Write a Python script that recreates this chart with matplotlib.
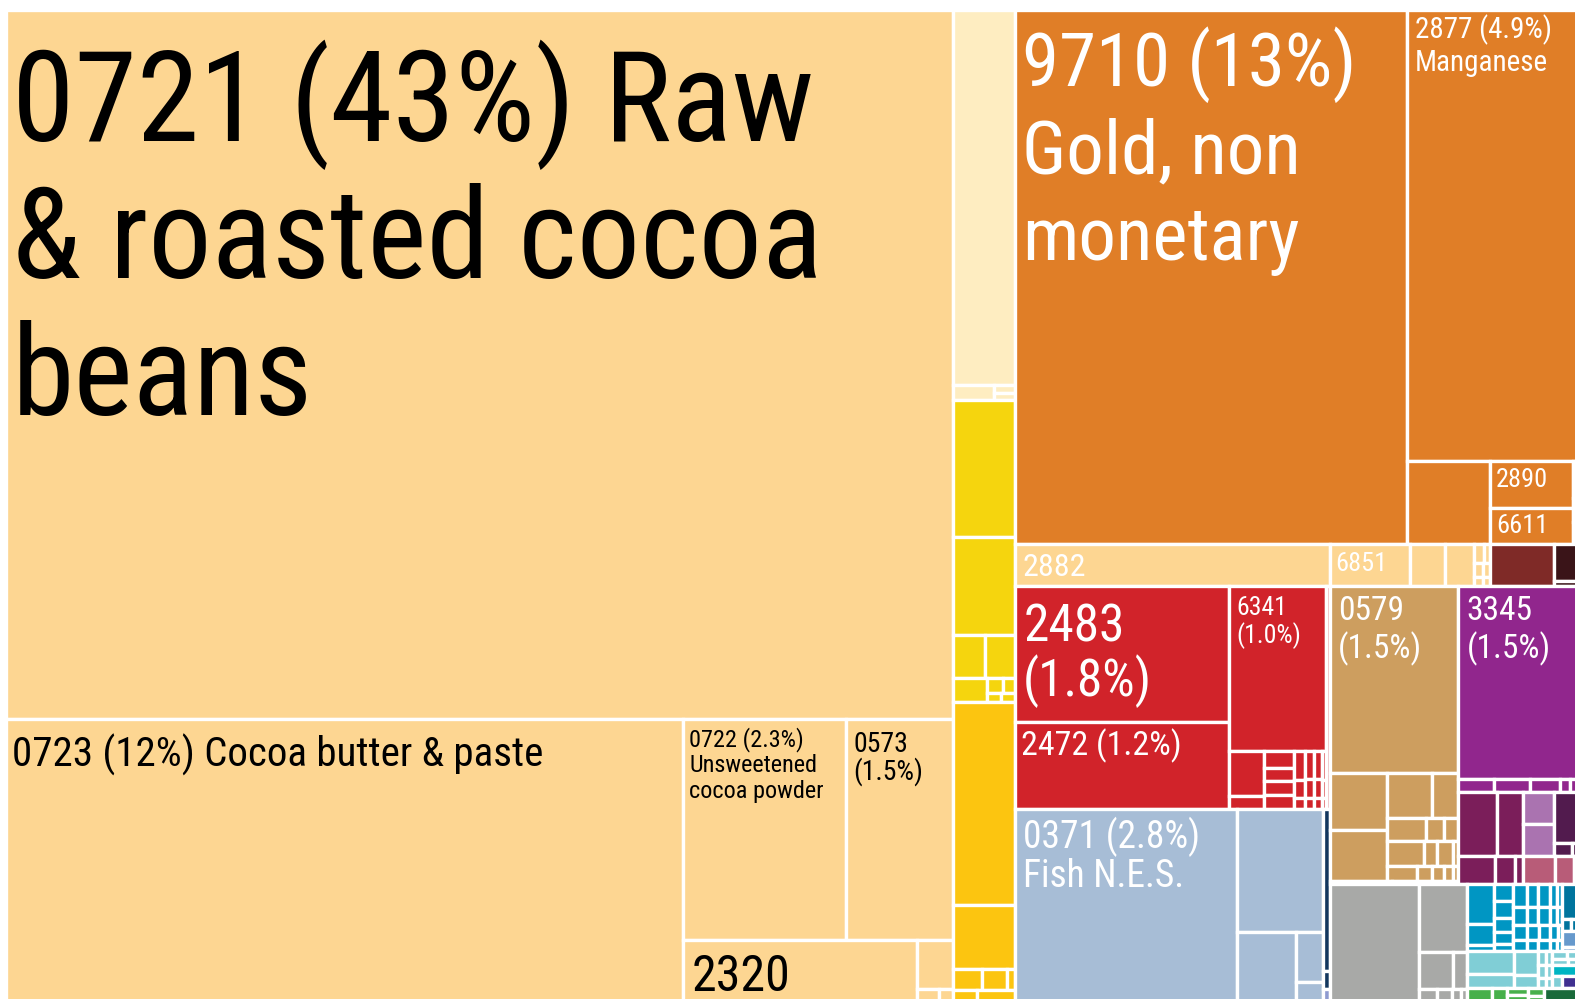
import matplotlib.pyplot as plt
from matplotlib.patches import Rectangle

plt.rcParams['font.family'] = ['Liberation Sans Narrow', 'Roboto Condensed', 'DejaVu Sans']

# --- shares of total exports (%), read off the tile areas ---
# cocoa & food (light orange)
cocoa_codes = ['0721', '0723', '0722', '0573', '2320']
cocoa_share = [43.0, 12.3, 2.31, 1.52, 0.93]
cocoa_tail = [0.115, 0.018, 0.011]

# narrow column next to cocoa
pale_share = [1.49, 0.038, 0.010, 0.010]
yellow_share = [0.543, 0.391, 0.086, 0.083, 0.053]
yellow_tiny = [[0.015, 0.012], [0.008, 0.008]]
gold_share = [0.807, 0.252]
gold_tiny = [[0.040, 0.034, 0.011], [0.018, 0.029]]

# minerals (orange)
orange_codes = ['9710', '2877', '2890', '6611']
orange_share = [13.4, 4.94, 0.25, 0.19]
orange_rest = [0.44, 0.012, 0.008, 0.007]

# strip below the minerals
strip_codes = ['2882', '6851']
strip_share = [0.85, 0.216, 0.095, 0.078]
strip_tiny = [[0.012, 0.008], [0.008, 0.006], [0.005, 0.004]]
darkred_share = [0.173]
darkest_share = [0.058, 0.007]

# red
red_codes = ['2483', '2472', '6341']
red_share = [1.87, 1.19, 1.02]
red_small_a = [0.10, 0.027]
red_small_b = [0.032, 0.026, 0.026, 0.026]
red_small_c = [[0.022, 0.014, 0.008], [0.016, 0.011, 0.006], [0.013, 0.009, 0.005], [0.008, 0.005, 0.003]]
pink_share = [0.057]

# fish (light blue)
blue_codes = ['0371']
blue_share = [2.75, 0.68, 0.26, 0.087, 0.035]
navy_share = [0.073, 0.008]
lavender_share = [0.006]

# tan
tan_codes = ['0579']
tan_share = [1.54]
tan_small_a = [0.21, 0.19]
tan_small_b = [[0.13, 0.075], [0.058, 0.027, 0.022], [0.056, 0.021, 0.025, 0.008], [0.03, 0.015, 0.012, 0.009, 0.006]]
brown_share = [0.012, 0.008, 0.005]

# purple
purple_codes = ['3345']
purple_share = [1.48]
purple_small = [0.03, 0.03, 0.025, 0.008, 0.007]
magenta_share = [[0.158, 0.106], [0.068, 0.036, 0.015]]
lilac_share = [0.062, 0.062]
plum_share = [0.08, 0.014, 0.005]
rose_share = [0.058, 0.035, 0.008]

# gray
gray_share = [0.67, 0.21]
gray_small = [[0.08, 0.035], [0.015, 0.012, 0.008, 0.005]]

# teal / cyan / green corner
teal_a = [0.068, 0.035, 0.01]
teal_b = [0.02, 0.02, 0.018, 0.014, 0.008]
teal_grid = [[0.02, 0.016, 0.016, 0.011, 0.007],
             [0.017, 0.014, 0.014, 0.009, 0.006],
             [0.013, 0.011, 0.01, 0.007, 0.004],
             [0.01, 0.008, 0.008, 0.005, 0.004]]
darkteal_share = [0.035, 0.007, 0.005]
lightblue_share = [0.016, 0.004]
cyan_a = [0.07, 0.042]
cyan_b = [0.037, 0.02]
cyan_grid = [[0.007, 0.006], [0.006, 0.005], [0.005, 0.004]]
cyan_tail = [[0.008, 0.006], [0.006, 0.004]]
brightcyan_share = [0.018]
indigo_share = [0.012]
cyan_last = [0.008]
green_share = [0.022, 0.014, 0.01, 0.009, 0.008, 0.006]
darkgreen_share = [0.031]

labels = {
    '0721': ['0721 (43%) Raw', '& roasted cocoa', 'beans'],
    '0723': ['0723 (12%) Cocoa butter & paste'],
    '0722': ['0722 (2.3%)', 'Unsweetened', 'cocoa powder'],
    '0573': ['0573', '(1.5%)'],
    '2320': ['2320'],
    '9710': ['9710 (13%)', 'Gold, non', 'monetary'],
    '2877': ['2877 (4.9%)', 'Manganese'],
    '2890': ['2890'],
    '6611': ['6611'],
    '2882': ['2882'],
    '6851': ['6851'],
    '2483': ['2483', '(1.8%)'],
    '2472': ['2472 (1.2%)'],
    '6341': ['6341', '(1.0%)'],
    '0579': ['0579', '(1.5%)'],
    '3345': ['3345', '(1.5%)'],
    '0371': ['0371 (2.8%)', 'Fish N.E.S.'],
}

# font size (pt), x pad, first baseline offset, line step (px)
label_style = {
    '0721': (91, 6, 131, 137),
    '0723': (29.5, 6, 48, 0),
    '0722': (17.5, 6, 28, 25.5),
    '0573': (20, 7, 33, 28),
    '2320': (36, 8, 51, 0),
    '9710': (54, 7, 76, 87),
    '2877': (21, 8, 28, 33),
    '2890': (19, 6, 26, 0),
    '6611': (19, 6, 25, 0),
    '2882': (23, 7, 32, 0),
    '6851': (19, 5, 27, 0),
    '2483': (37, 8, 56, 54),
    '2472': (24.5, 6, 33, 0),
    '6341': (18.5, 7, 29, 28),
    '0579': (24, 8, 34, 38),
    '3345': (24, 8, 34, 38),
    '0371': (27, 8, 39, 39),
}

COCOA = '#FDD692'
PALE = '#FEEDC1'
YELLOW = '#F5D50E'
GOLD = '#FCC510'
ORANGE = '#E07E27'
DARKRED = '#7F2A27'
DARKEST = '#3A1418'
RED = '#D1232A'
PINK = '#E8A2A4'
BLUE = '#A7BDD6'
NAVY = '#13375E'
LAVENDER = '#8E9BD0'
TAN = '#CD9E5F'
BROWN = '#7A4E2E'
PURPLE = '#91268D'
MAGENTA = '#7B1E5A'
LILAC = '#AA73B0'
PLUM = '#521B4E'
ROSE = '#B85C78'
GRAY = '#A8A9A7'
TEAL = '#0096C3'
DTEAL = '#00749D'
LBLUE = '#6699CC'
CYAN = '#80CED6'
BCYAN = '#00B5C3'
INDIGO = '#403090'
GREEN = '#47B04B'
DGREEN = '#1A6A3A'

dark_text = {'0721', '0723', '0722', '0573', '2320'}


def leaf(v, c, key=None):
    return {'v': v, 'c': c, 'key': key}


def H(*kids):
    return {'dir': 'h', 'kids': kids, 'v': sum(k['v'] for k in kids)}


def V(*kids):
    return {'dir': 'v', 'kids': kids, 'v': sum(k['v'] for k in kids)}


def hrow(c, vals):
    return H(*[leaf(v, c) for v in vals])


def vcol(c, vals):
    return V(*[leaf(v, c) for v in vals])


def vrows(c, rows):
    return V(*[hrow(c, r) for r in rows])


def hcols(c, cols):
    return H(*[vcol(c, r) for r in cols])


col_a = V(
    leaf(cocoa_share[0], COCOA, cocoa_codes[0]),
    H(leaf(cocoa_share[1], COCOA, cocoa_codes[1]),
      V(H(leaf(cocoa_share[2], COCOA, cocoa_codes[2]), leaf(cocoa_share[3], COCOA, cocoa_codes[3])),
        H(leaf(cocoa_share[4], COCOA, cocoa_codes[4]),
          V(leaf(cocoa_tail[0], COCOA), hrow(COCOA, cocoa_tail[1:]))))))

col_b = V(
    leaf(pale_share[0], PALE),
    H(leaf(pale_share[1], PALE), vcol(PALE, pale_share[2:])),
    leaf(yellow_share[0], YELLOW),
    leaf(yellow_share[1], YELLOW),
    hrow(YELLOW, yellow_share[2:4]),
    H(leaf(yellow_share[4], YELLOW), vrows(YELLOW, yellow_tiny)),
    leaf(gold_share[0], GOLD),
    leaf(gold_share[1], GOLD),
    hrow(GOLD, gold_tiny[0]),
    hrow(GOLD, gold_tiny[1]))

orange_band = H(
    leaf(orange_share[0], ORANGE, orange_codes[0]),
    V(leaf(orange_share[1], ORANGE, orange_codes[1]),
      H(leaf(orange_rest[0], ORANGE),
        V(leaf(orange_share[2], ORANGE, orange_codes[2]), leaf(orange_share[3], ORANGE, orange_codes[3])),
        vcol(ORANGE, orange_rest[1:]))))

strip = H(
    leaf(strip_share[0], COCOA, strip_codes[0]),
    leaf(strip_share[1], COCOA, strip_codes[1]),
    leaf(strip_share[2], COCOA),
    leaf(strip_share[3], COCOA),
    vrows(COCOA, strip_tiny),
    leaf(darkred_share[0], DARKRED),
    vcol(DARKEST, darkest_share))

red_block = H(
    V(leaf(red_share[0], RED, red_codes[0]), leaf(red_share[1], RED, red_codes[1])),
    V(leaf(red_share[2], RED, red_codes[2]),
      H(vcol(RED, red_small_a), vcol(RED, red_small_b), hcols(RED, red_small_c))),
    leaf(pink_share[0], PINK))

blue_block = H(
    leaf(blue_share[0], BLUE, blue_codes[0]),
    V(leaf(blue_share[1], BLUE),
      H(leaf(blue_share[2], BLUE), vcol(BLUE, blue_share[3:]))),
    V(leaf(navy_share[0], NAVY), leaf(navy_share[1], NAVY), leaf(lavender_share[0], LAVENDER)))

tan_block = V(
    leaf(tan_share[0], TAN, tan_codes[0]),
    H(vcol(TAN, tan_small_a), vrows(TAN, tan_small_b)),
    hrow(BROWN, brown_share))

purple_block = V(
    leaf(purple_share[0], PURPLE, purple_codes[0]),
    hrow(PURPLE, purple_small),
    H(vrows(MAGENTA, magenta_share),
      V(H(vcol(LILAC, lilac_share),
          V(leaf(plum_share[0], PLUM), hrow(PLUM, plum_share[1:]))),
        hrow(ROSE, rose_share))))

gray_block = H(
    leaf(gray_share[0], GRAY),
    V(leaf(gray_share[1], GRAY), vrows(GRAY, gray_small)))

teal_block = V(
    H(vcol(TEAL, teal_a), vcol(TEAL, teal_b), vrows(TEAL, teal_grid),
      V(leaf(darkteal_share[0], DTEAL), hrow(DTEAL, darkteal_share[1:]), vcol(LBLUE, lightblue_share))),
    H(vcol(CYAN, cyan_a), vcol(CYAN, cyan_b), vrows(CYAN, cyan_grid),
      V(vrows(CYAN, cyan_tail), leaf(brightcyan_share[0], BCYAN),
        H(leaf(cyan_last[0], CYAN), leaf(indigo_share[0], INDIGO)))),
    H(leaf(green_share[0], GREEN), leaf(green_share[1], GREEN), vcol(GREEN, green_share[2:4]),
      vcol(GREEN, green_share[4:]), leaf(darkgreen_share[0], DGREEN)))

col_c = V(
    orange_band,
    strip,
    H(V(red_block, blue_block),
      V(H(tan_block, purple_block),
        H(gray_block, teal_block))))

tree = H(col_a, col_b, col_c)

W, HGT = 1575, 999
fig = plt.figure(figsize=(15.75, 9.99), dpi=100, facecolor='white')
ax = fig.add_axes([0, 0, 1, 1])
ax.set_xlim(0, W)
ax.set_ylim(HGT, 0)
ax.axis('off')

EDGE = 2.4


def put_label(key, x, y):
    size, dx, dy, step = label_style[key]
    color = 'black' if key in dark_text else 'white'
    for i, line in enumerate(labels[key]):
        ax.text(x + dx, y + dy + i * step, line, fontsize=size, color=color,
                ha='left', va='baseline')


def draw(node, x, y, w, h):
    if 'kids' not in node:
        ax.add_patch(Rectangle((x, y), w, h, facecolor=node['c'], edgecolor='white', linewidth=EDGE))
        if node['key']:
            put_label(node['key'], x, y)
        return
    pos = x if node['dir'] == 'h' else y
    for k in node['kids']:
        frac = k['v'] / node['v']
        if node['dir'] == 'h':
            draw(k, pos, y, w * frac, h)
            pos += w * frac
        else:
            draw(k, x, pos, w, h * frac)
            pos += h * frac


draw(tree, 6, 10, 1572, 992)

fig.savefig('out.png', dpi=100, facecolor='white')
